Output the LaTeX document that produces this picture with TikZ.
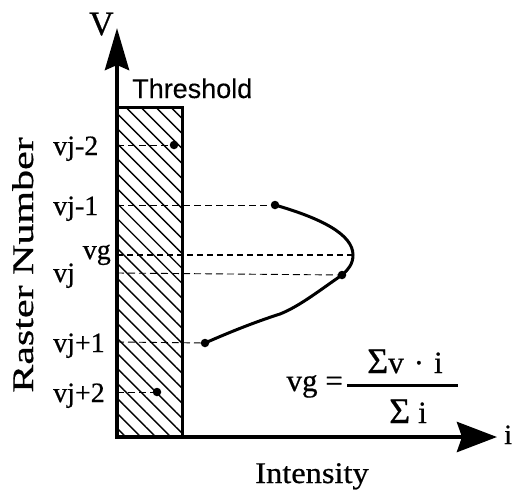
\documentclass[tikz,border=0pt]{standalone}
\usepackage{fontspec}
\setmainfont{Liberation Serif}[FakeBold=0.6]
\newfontfamily\sansfont{Liberation Sans}[FakeBold=0.3]
\usetikzlibrary{arrows.meta,positioning,patterns.meta}

\newcommand{\bigsig}{{\fontsize{36}{36}\selectfont Σ}}

\begin{document}
\begin{tikzpicture}[
  x=1pt,y=-1pt,
  axis/.style={line width=4.5pt,line join=miter,
    {Stealth[length=42pt,width=24pt,inset=5pt]}-{Stealth[length=40pt,width=30pt,inset=5pt]}},
  lbl/.style={inner sep=0pt,font=\fontsize{28}{28}\selectfont},
  big/.style={inner sep=0pt,font=\fontsize{30}{30}\selectfont},
  eq/.style={inner sep=0pt,font=\fontsize{31}{31}\selectfont},
  dot/.style={circle,fill,inner sep=0pt,minimum size=8.5pt},
  guide/.style={line width=0.9pt,dash pattern=on 7pt off 4pt},
  mean/.style={line width=2.4pt,dash pattern=on 6pt off 4pt},
  curve/.style={line width=3pt,line cap=round}
]
\useasboundingbox (0,0) rectangle (514,491);

\coordinate (O) at (117,437);
\coordinate (vtip) at (117,28);
\coordinate (itip) at (497,437);

% threshold band
\fill[pattern={Lines[angle=-45,distance=10.6pt,line width=1.4pt]}] (117,107) rectangle (182,437);
\draw[line width=3pt] (117,107) -| (182,437);
\node[inner sep=0pt,anchor=base west,font=\sansfont\fontsize{27}{27}\selectfont] (thr) at (132,98) {Threshold};

\draw[axis] (vtip) -- (O) -- (itip);
\node[inner sep=0pt,anchor=base west,font=\fontsize{34}{34}\selectfont] (V) at (89,35) {V};
\node[lbl,anchor=base west] (i) at (504,444) {i};
\node[big,anchor=base] (int) at (312,483) {\scalebox{1.08}[1]{Intensity}};
\node[big,anchor=base,rotate=90] (rn) at (33,265) {\scalebox{1.4}[1]{Raster Number}};

% raster rows
\coordinate (a2) at (117,145);
\coordinate (a1) at (117,205);
\coordinate (ag) at (117,255);
\coordinate (a0) at (117,273);
\coordinate (b1) at (117,342);
\coordinate (b2) at (117,392);

\node[lbl,anchor=base west] (l2) at (53,155) {vj-2};
\node[lbl,anchor=base west] (l1) at (53,215) {vj-1};
\node[lbl,anchor=base east] (lg) at (111,259) {vg};
\node[lbl,anchor=base west] (l0) at (53,282) {vj};
\node[lbl,anchor=base west] (m1) at (53,352) {vj+1};
\node[lbl,anchor=base west] (m2) at (53,402) {vj+2};

\node[dot] (d2) at (174,145) {};
\node[dot] (d1) at (275,205) {};
\coordinate (pk) at (353,255);
\node[dot] (d0) at (342,275) {};
\coordinate (kn) at (280,314);
\node[dot] (e1) at (205,343) {};
\node[dot] (e2) at (157,392) {};

\draw[guide] (a2) -- (d2.center);
\draw[guide] (a1) -- (d1.center);
\draw[mean] (ag) -- (pk);
\draw[guide] (a0) -- (d0.center);
\draw[guide] (b1) -- (e1.center);
\draw[guide] (b2) -- (e2.center);

\draw[curve] (d1.center) .. controls (320,218) and (353,234) .. (pk)
  .. controls (353,264) and (348,270) .. (d0.center)
  .. controls (320,290) and (300,306) .. (kn)
  .. controls (255,322) and (230,332) .. (e1.center);

% centroid formula
\node[eq,anchor=base east] (vgeq) at (343,391) {vg =};
\coordinate (barL) at (347,385);
\coordinate (barR) at (458,385);
\draw[line width=3pt] (barL) -- (barR);
\node[eq,anchor=base] (num) at (405,373) {\bigsig v\hspace{10pt}·\hspace{10pt}i};
\node[eq,anchor=base] (den) at (408,423) {\bigsig\hspace{8pt}i};
\end{tikzpicture}
\end{document}
